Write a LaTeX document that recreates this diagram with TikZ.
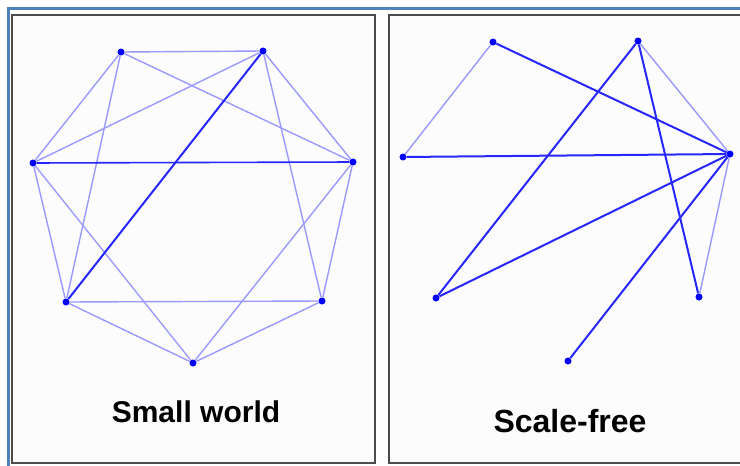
\documentclass[tikz,border=0pt]{standalone}
\usepackage{fontspec}
\setmainfont{Liberation Sans}
\usepackage{tikz}
\definecolor{frameblue}{RGB}{79,129,189}
\tikzset{
  vertex/.style={circle, fill=blue, inner sep=0pt, minimum size=7pt},
  weak/.style={blue!40, line width=1.4pt},
  strong/.style={blue!85, line width=2pt},
  panel/.style={draw=black!70, line width=2pt, fill=black!1},
  caption/.style={anchor=base, font=\bfseries\fontsize{#1}{#1}\selectfont}
}

\begin{document}
\begin{tikzpicture}[x=1pt, y=-1pt]
  \useasboundingbox (0,0) rectangle (740,466);
  \fill[white] (0,0) rectangle (740,466);
  % blue frame, cut off at right and bottom
  \draw[frameblue, line width=3pt] (8.5,470) -- (8.5,8.5) -- (745,8.5);
  % the two panels
  \draw[panel] (12,15) rectangle (375,463);
  \draw[panel] (389,15) rectangle (760,463);

  % small world: seven vertices on a ring
  \node[vertex] (a) at (121,52) {};
  \node[vertex] (b) at (263,51) {};
  \node[vertex] (c) at (33,163) {};
  \node[vertex] (d) at (353,162) {};
  \node[vertex] (e) at (66,302) {};
  \node[vertex] (f) at (322,301) {};
  \node[vertex] (g) at (193,363) {};
  \draw[weak] (a) -- (b);
  \draw[weak] (a) -- (c);
  \draw[weak] (a) -- (e);
  \draw[weak] (a) -- (d);
  \draw[weak] (b) -- (c);
  \draw[weak] (b) -- (d);
  \draw[weak] (b) -- (f);
  \draw[weak] (c) -- (e);
  \draw[weak] (c) -- (g);
  \draw[weak] (d) -- (f);
  \draw[weak] (d) -- (g);
  \draw[weak] (e) -- (f);
  \draw[weak] (e) -- (g);
  \draw[weak] (f) -- (g);
  \draw[strong] (b) -- (e);
  \draw[strong, line width=1.6pt] (c) -- (d);
  \node[caption=30] (sw) at (196,422) {Small world};

  % scale-free: most links go to one hub
  \node[vertex] (p1) at (493,42) {};
  \node[vertex] (p2) at (638,41) {};
  \node[vertex] (p3) at (403,157) {};
  \node[vertex] (hub) at (730,154) {};
  \node[vertex] (p5) at (436,298) {};
  \node[vertex] (p6) at (699,297) {};
  \node[vertex] (p7) at (568,361) {};
  \draw[weak] (p1) -- (p3);
  \draw[weak] (p2) -- (hub);
  \draw[weak] (p6) -- (hub);
  \draw[strong] (p1) -- (hub);
  \draw[strong] (p3) -- (hub);
  \draw[strong] (p5) -- (hub);
  \draw[strong] (p7) -- (hub);
  \draw[strong] (p2) -- (p5);
  \draw[strong] (p2) -- (p6);
  \node[caption=32] (sf) at (570,432) {Scale-free};
\end{tikzpicture}
\end{document}
